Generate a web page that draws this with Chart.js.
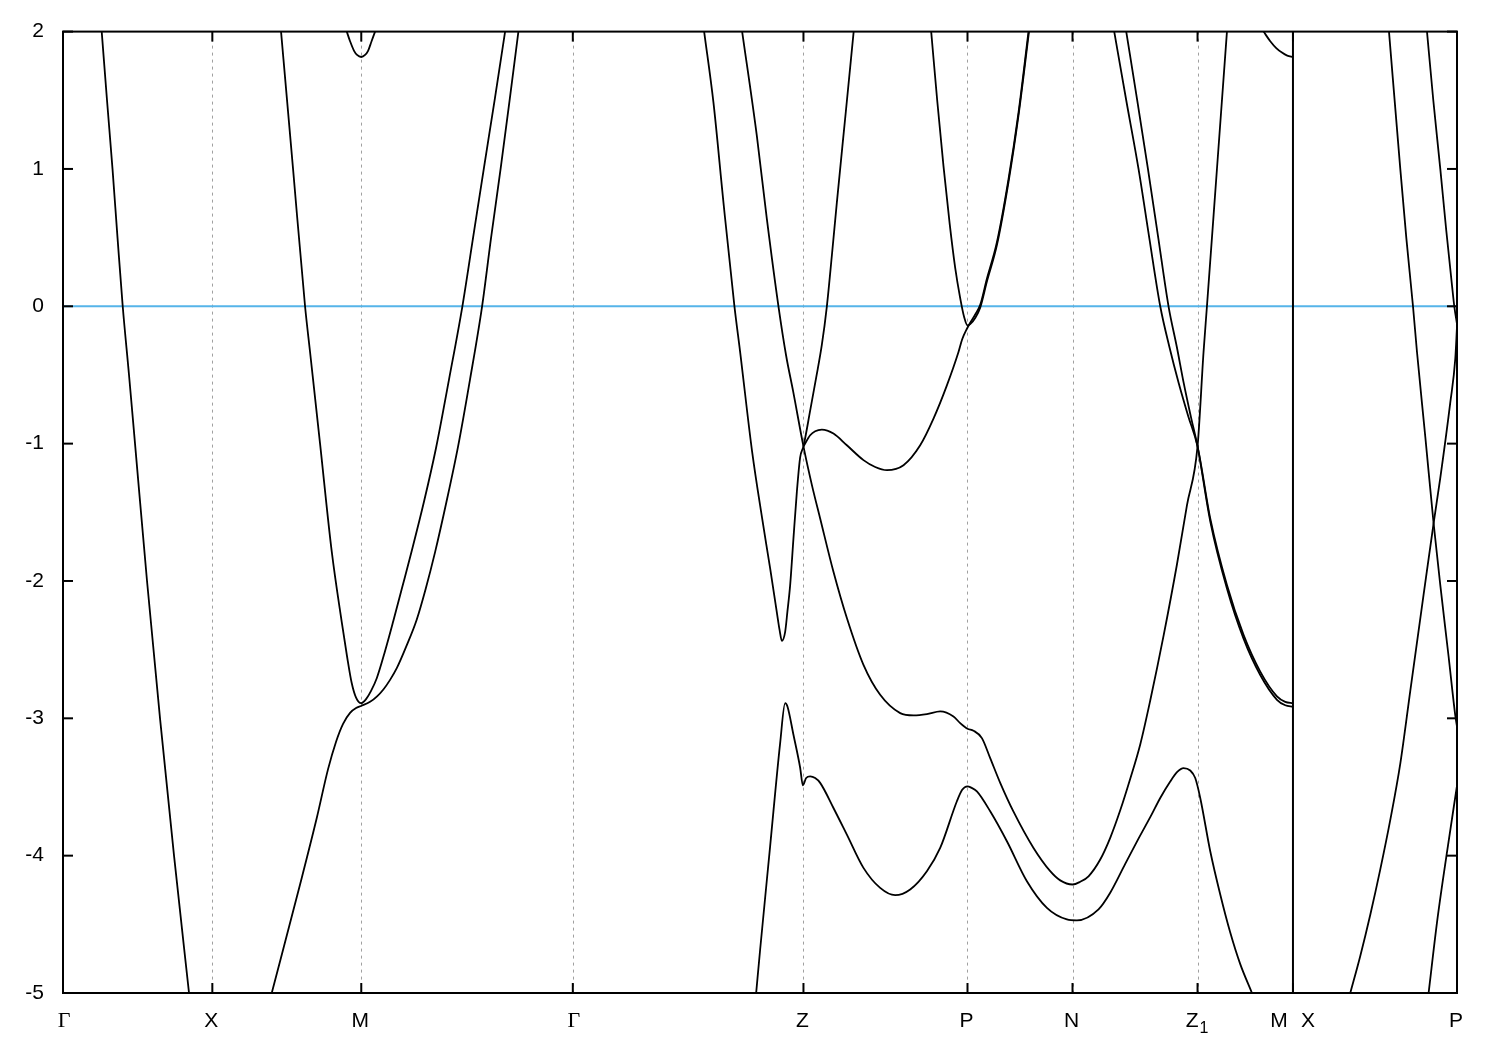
<!DOCTYPE html>
<html><head><meta charset="utf-8">
<script src="https://cdn.jsdelivr.net/npm/chart.js@4.4.1/dist/chart.umd.min.js"></script>
<style>html,body{margin:0;padding:0;background:#fff;}#wrap{width:1500px;height:1050px;position:relative;}</style>
</head><body><div id="wrap"><canvas id="c"></canvas></div>
<script>
// High-symmetry points along the k-path
const kTicks  = [0, 0.1493, 0.2982, 0.5097, 0.7403, 0.9043, 1.0093, 1.1343, 1.2297, 1.3937];
const kLabels = ['Γ', 'X', 'M', 'Γ', 'Z', 'P', 'N', 'Z1', 'M|X', 'P'];
const eTicks  = [-5, -4, -3, -2, -1, 0, 1, 2];
const fermiE  = 0;

// Bands (k, E in eV)
const bandA_k = [0.0387,0.044,0.0495,0.0545,0.0597,0.066,0.072,0.084,0.097,0.111,0.126];
const bandA_E = [2,1.5,1,0.5,0,-0.5,-1,-2,-3,-4,-5];

const bandB1_k = [0.218,0.230,0.242,0.247,0.257,0.2687,0.2787,0.284,0.2887,0.293,0.298,0.303,0.308,0.3137,0.322,0.3303,0.339,0.3487,0.361,0.373,0.386,0.3993,0.410,0.4207,0.4315,0.442];
const bandB1_E = [2,1,0,-0.333,-1,-1.787,-2.3,-2.55,-2.745,-2.85,-2.89,-2.86,-2.8,-2.708,-2.51,-2.29,-2.05,-1.78,-1.42,-1.03,-0.53,0,0.5,1,1.5,2];

const bandB2_k = [0.2087,0.237,0.2537,0.265,0.273,0.280,0.287,0.293,0.298,0.307,0.314,0.3203,0.327,0.3337,0.343,0.3537,0.3625,0.372,0.3835,0.395,0.407,0.419,0.428,0.4375,0.4465,0.4553];
const bandB2_E = [-5,-4.21,-3.726,-3.37,-3.17,-3.04,-2.96,-2.925,-2.91,-2.88,-2.84,-2.79,-2.72,-2.635,-2.48,-2.28,-2.06,-1.79,-1.42,-1.02,-0.53,0,0.5,1,1.5,2];

const pocketM1_k = [0.2837,0.287,0.291,0.294,0.2982,0.302,0.305,0.3085,0.312];
const pocketM1_E = [2,1.93,1.86,1.83,1.815,1.83,1.86,1.93,2];

const band1_k = [0.641,0.6503,0.6603,0.6713,0.677,0.689,0.699,0.707,0.7135,0.7165,0.7187,0.722,0.7243,0.727,0.7303,0.7337,0.737,0.7403,0.747,0.753,0.7587,0.7637,0.7687,0.7737,0.7827,0.7905];
const band1_E = [2,1.484,0.757,0,-0.333,-1.06,-1.545,-1.909,-2.22,-2.36,-2.436,-2.37,-2.22,-2.03,-1.69,-1.351,-1.1,-1.02,-0.76,-0.52,-0.28,0,0.37,0.757,1.42,2];

const band2_k = [0.679,0.6937,0.7037,0.7153,0.723,0.730,0.7403,0.7487,0.757,0.7703,0.7837,0.8003,0.817,0.837,0.8503,0.8637,0.877,0.8903,0.897,0.9043,0.9103,0.9187,0.927,0.937,0.9503,0.9703,0.987,0.997,1.0093,1.017,1.0253,1.037,1.047,1.057,1.067,1.077,1.087,1.1003,1.1137,1.1237,1.1343,1.1403,1.1437,1.1537,1.1637];
const band2_E = [2,1.24,0.636,0,-0.36,-0.62,-1.02,-1.3,-1.545,-1.933,-2.27,-2.611,-2.829,-2.962,-2.979,-2.97,-2.95,-2.987,-3.035,-3.076,-3.09,-3.144,-3.29,-3.47,-3.68,-3.944,-4.113,-4.18,-4.21,-4.19,-4.15,-4.028,-3.87,-3.67,-3.44,-3.19,-2.87,-2.4,-1.88,-1.45,-1.02,-0.333,0,1,2];

const wavy_k = [0.7403,0.747,0.752,0.7587,0.7703,0.7837,0.8003,0.812,0.8237,0.8403,0.857,0.8703,0.8837,0.8953,0.899,0.904,0.907,0.912,0.917,0.9237,0.9337,0.9453,0.9553,0.9653];
const wavy_E = [-1.02,-0.939,-0.91,-0.898,-0.927,-1.012,-1.12,-1.17,-1.193,-1.157,-1.012,-0.818,-0.576,-0.333,-0.24,-0.16,-0.12,-0.06,0.01,0.2,0.466,0.926,1.41,2];

const pArm_k = [0.868,0.874,0.8803,0.8865,0.892,0.897,0.901,0.9043,0.907,0.912,0.917,0.9237,0.9337,0.9453,0.9553,0.9658];
const pArm_E = [2,1.5,1.02,0.6,0.28,0.06,-0.08,-0.14,-0.13,-0.085,-0.01,0.18,0.445,0.905,1.39,2];

const lower_k = [0.693,0.697,0.707,0.717,0.722,0.7243,0.7303,0.737,0.7397,0.743,0.747,0.752,0.757,0.7703,0.7837,0.8003,0.817,0.832,0.847,0.8637,0.877,0.8937,0.899,0.9043,0.908,0.9137,0.927,0.9437,0.9637,0.9837,1.0037,1.0137,1.0353,1.047,1.062,1.075,1.087,1.097,1.107,1.114,1.1203,1.127,1.132,1.137,1.147,1.157,1.167,1.177,1.1887];
const lower_E = [-5,-4.683,-3.93,-3.18,-2.89,-2.914,-3.12,-3.36,-3.488,-3.435,-3.423,-3.435,-3.47,-3.653,-3.847,-4.089,-4.235,-4.288,-4.246,-4.113,-3.944,-3.604,-3.52,-3.495,-3.505,-3.532,-3.677,-3.895,-4.186,-4.38,-4.464,-4.471,-4.391,-4.27,-4.06,-3.88,-3.72,-3.58,-3.46,-3.39,-3.362,-3.38,-3.435,-3.58,-3.968,-4.283,-4.56,-4.79,-5];

const par1_k = [1.051,1.063,1.0753,1.086,1.097,1.1063,1.1155,1.125,1.1343,1.147,1.1637,1.1803,1.197,1.2137,1.222,1.2297];
const par1_E = [2,1.5,1,0.5,0,-0.3,-0.56,-0.8,-1.02,-1.545,-2.03,-2.393,-2.66,-2.84,-2.88,-2.89];
const par2_k = [1.063,1.074,1.0847,1.095,1.1053,1.1137,1.1205,1.1275,1.1343,1.147,1.1637,1.1803,1.197,1.2137,1.222,1.2297];
const par2_E = [2,1.5,1,0.5,0,-0.3,-0.56,-0.8,-1.02,-1.565,-2.055,-2.42,-2.685,-2.865,-2.905,-2.915];

const pocketM2_k = [1.2003,1.207,1.213,1.2187,1.224,1.2297];
const pocketM2_E = [2,1.93,1.88,1.847,1.825,1.815];

const xpA_k = [1.3257,1.337,1.343,1.3497,1.3537,1.362,1.3703,1.377,1.3853,1.392,1.3937];
const xpA_E = [2,1.0,0.5,0,-0.333,-0.95,-1.58,-2.03,-2.55,-2.98,-3.06];
const xpB_k = [1.3637,1.370,1.377,1.383,1.3887,1.391,1.3937];
const xpB_E = [2,1.5,1.0,0.55,0.152,0,-0.13];
const xpC_k = [1.287,1.297,1.307,1.317,1.327,1.337,1.347,1.3603,1.3703,1.377,1.387,1.392,1.3937];
const xpC_E = [-5,-4.73,-4.43,-4.1,-3.74,-3.33,-2.8,-2.1,-1.58,-1.25,-0.7,-0.38,-0.15];
const xpD_k = [1.3653,1.374,1.384,1.3937];
const xpD_E = [-5,-4.47,-3.96,-3.49];

const bands = [
  [bandA_k,bandA_E],[bandB1_k,bandB1_E],[bandB2_k,bandB2_E],[pocketM1_k,pocketM1_E],
  [band1_k,band1_E],[band2_k,band2_E],[wavy_k,wavy_E],[pArm_k,pArm_E],[lower_k,lower_E],
  [par1_k,par1_E],[par2_k,par2_E],[pocketM2_k,pocketM2_E],
  [xpA_k,xpA_E],[xpB_k,xpB_E],[xpC_k,xpC_E],[xpD_k,xpD_E]
];

const toPts = (k,E) => k.map((x,i)=>({x:x, y:E[i]}));
const datasets = bands.map(([k,E]) => ({
  data: toPts(k,E), showLine:true, borderColor:'#000000', borderWidth:1.8,
  pointRadius:0, fill:false, cubicInterpolationMode:'monotone', order:0
}));
datasets.push({
  data:[{x:kTicks[0],y:fermiE},{x:kTicks[kTicks.length-1],y:fermiE}],
  showLine:true, borderColor:'#56b4e9', borderWidth:2, pointRadius:0, fill:false, order:10
});

const SANS = '"Liberation Sans", Arial, sans-serif';
const SERIF = '"Liberation Serif", "Times New Roman", serif';

const decor = {
  id:'decor',
  beforeDatasetsDraw(chart){
    const {ctx, chartArea:a, scales:{x}} = chart;
    ctx.save();
    ctx.strokeStyle = '#a0a0a0'; ctx.lineWidth = 1; ctx.setLineDash([3,4]);
    kTicks.forEach((k,i)=>{
      if (i===0 || i===kTicks.length-1 || kLabels[i]==='M|X') return;
      const px = Math.round(x.getPixelForValue(k)) + 0.5;
      ctx.beginPath(); ctx.moveTo(px, a.top); ctx.lineTo(px, a.bottom); ctx.stroke();
    });
    ctx.restore();
  },
  afterDatasetsDraw(chart){
    const {ctx, chartArea:a, scales:{x,y}} = chart;
    ctx.save();
    ctx.strokeStyle = '#000'; ctx.setLineDash([]);
    kTicks.forEach((k,i)=>{
      if (kLabels[i]!=='M|X') return;
      const px = x.getPixelForValue(k);
      ctx.lineWidth = 2;
      ctx.beginPath(); ctx.moveTo(px, a.top); ctx.lineTo(px, a.bottom); ctx.stroke();
    });
    ctx.lineWidth = 2;
    const TL = 10;
    eTicks.forEach(e=>{
      const py = y.getPixelForValue(e);
      ctx.beginPath(); ctx.moveTo(a.left, py); ctx.lineTo(a.left+TL, py); ctx.stroke();
      ctx.beginPath(); ctx.moveTo(a.right, py); ctx.lineTo(a.right-TL, py); ctx.stroke();
    });
    kTicks.forEach(k=>{
      const px = x.getPixelForValue(k);
      ctx.beginPath(); ctx.moveTo(px, a.top); ctx.lineTo(px, a.top+TL); ctx.stroke();
      ctx.beginPath(); ctx.moveTo(px, a.bottom); ctx.lineTo(px, a.bottom-TL); ctx.stroke();
    });
    ctx.lineWidth = 2;
    ctx.strokeRect(a.left, a.top, a.right-a.left, a.bottom-a.top);
    ctx.restore();
  },
  afterDraw(chart){
    const {ctx, chartArea:a, scales:{x}} = chart;
    ctx.save();
    ctx.fillStyle = '#000'; ctx.textBaseline = 'alphabetic';
    const base = a.bottom + 34;
    kTicks.forEach((k,i)=>{
      const px = x.getPixelForValue(k);
      const lab = kLabels[i];
      if (lab === 'Γ') {
        ctx.font = '22px ' + SERIF; ctx.textAlign = 'center';
        ctx.fillText(lab, px + 1, base);
      } else if (lab === 'Z1') {
        ctx.font = '21px ' + SANS; ctx.textAlign = 'right';
        ctx.fillText('Z', px + 1, base);
        ctx.font = '16px ' + SANS; ctx.textAlign = 'left';
        ctx.fillText('1', px + 2, base + 6);
      } else if (lab === 'M|X') {
        ctx.font = '21px ' + SANS;
        ctx.textAlign = 'center';
        ctx.fillText('M', px - 14, base);
        ctx.fillText('X', px + 15, base);
      } else {
        ctx.font = '21px ' + SANS; ctx.textAlign = 'center';
        ctx.fillText(lab, px - 1, base);
      }
    });
    ctx.restore();
  }
};

new Chart(document.getElementById('c'), {
  type:'scatter',
  data:{datasets},
  options:{
    responsive:true, maintainAspectRatio:false, animation:false,
    layout:{padding:{top:28, right:43, left:0, bottom:0}},
    plugins:{legend:{display:false}, tooltip:{enabled:false}},
    elements:{line:{tension:0}},
    scales:{
      x:{type:'linear', min:kTicks[0], max:kTicks[kTicks.length-1],
         ticks:{display:false}, grid:{display:false}, border:{display:false},
         afterFit(s){ s.height = 57; }},
      y:{type:'linear', min:eTicks[0], max:eTicks[eTicks.length-1],
         afterBuildTicks(s){ s.ticks = eTicks.map(v=>({value:v})); },
         ticks:{color:'#000', font:{family:SANS, size:21}, padding:19, autoSkip:false},
         grid:{display:false, drawTicks:false}, border:{display:false},
         afterFit(s){ s.width = 63; }}
    }
  },
  plugins:[decor]
});
</script>
</body></html>
